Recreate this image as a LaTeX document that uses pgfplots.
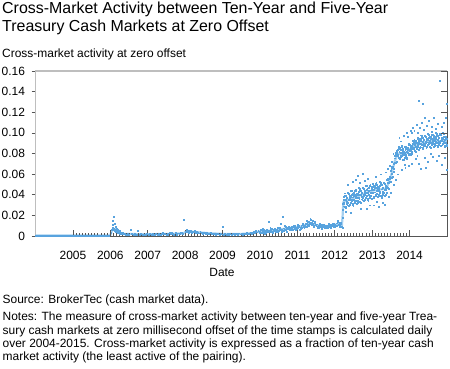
\documentclass[border=0pt]{standalone}
\usepackage{pgfplots}
\usepackage{pgfplotstable}
\pgfplotsset{compat=1.18}
\usepackage{fontspec}
\setmainfont{Liberation Sans}
\definecolor{dotblue}{RGB}{88,163,222}
\definecolor{bandblue}{RGB}{165,208,240}
\definecolor{framegray}{RGB}{190,190,190}
\definecolor{tickgray}{RGB}{85,85,85}

\pgfplotstableread[row sep=\\]{
x y\\
2004.00 0.0006\\ 2004.05 0.0005\\ 2004.10 0.0007\\ 2004.15 0.0004\\ 2004.20 0.0006\\ 2004.25 0.0008\\ 2004.30 0.0005\\ 2004.35 0.0006\\ 2004.40 0.0004\\ 2004.45 0.0007\\
2004.50 0.0005\\ 2004.55 0.0006\\ 2004.60 0.0008\\ 2004.65 0.0005\\ 2004.70 0.0006\\ 2004.75 0.0004\\ 2004.80 0.0007\\ 2004.85 0.0006\\ 2004.90 0.0005\\ 2004.95 0.0006\\
2005.00 0.0005\\ 2005.05 0.0007\\ 2005.10 0.0006\\ 2005.15 0.0004\\ 2005.20 0.0006\\ 2005.25 0.0007\\ 2005.30 0.0005\\ 2005.35 0.0006\\ 2005.40 0.0008\\ 2005.45 0.0005\\
2005.50 0.0006\\ 2005.55 0.0004\\ 2005.60 0.0007\\ 2005.65 0.0006\\ 2005.70 0.0005\\ 2005.75 0.0007\\ 2005.80 0.0006\\ 2005.85 0.0005\\ 2005.90 0.0008\\ 2005.95 0.0006\\
2006.02 0.0030\\ 2006.04 0.0065\\ 2006.05 0.0110\\ 2006.06 0.0085\\ 2006.07 0.0150\\ 2006.08 0.0060\\ 2006.09 0.0185\\ 2006.10 0.0072\\ 2006.11 0.0120\\ 2006.12 0.0050\\
2006.13 0.0095\\ 2006.14 0.0065\\ 2006.15 0.0040\\ 2006.16 0.0075\\ 2006.17 0.0055\\ 2006.18 0.0035\\ 2006.19 0.0062\\ 2006.20 0.0045\\ 2006.22 0.0030\\ 2006.24 0.0052\\
2006.26 0.0025\\ 2006.28 0.0038\\ 2006.30 0.0020\\ 2006.32 0.0030\\ 2006.35 0.0018\\ 2006.38 0.0025\\
2006.42 0.0015\\ 2006.46 0.0022\\ 2006.50 0.0012\\ 2006.54 0.0058\\ 2006.58 0.0018\\ 2006.62 0.0013\\ 2006.66 0.0020\\ 2006.70 0.0016\\ 2006.74 0.0055\\ 2006.78 0.0014\\
2006.82 0.0021\\ 2006.86 0.0012\\ 2006.90 0.0018\\ 2006.94 0.0015\\ 2006.98 0.0022\\ 2007.02 0.0013\\ 2007.06 0.0019\\ 2007.10 0.0016\\ 2007.14 0.0024\\ 2007.18 0.0012\\
2007.22 0.0020\\ 2007.26 0.0017\\ 2007.30 0.0025\\ 2007.34 0.0014\\ 2007.38 0.0022\\ 2007.42 0.0018\\ 2007.46 0.0027\\ 2007.50 0.0015\\ 2007.54 0.0023\\ 2007.58 0.0030\\
2007.62 0.0019\\ 2007.66 0.0026\\ 2007.70 0.0017\\ 2007.74 0.0031\\ 2007.78 0.0022\\ 2007.82 0.0028\\ 2007.86 0.0020\\ 2007.90 0.0035\\ 2007.94 0.0025\\ 2007.97 0.0162\\
2006.44 0.0010\\ 2006.56 0.0025\\ 2006.68 0.0011\\ 2006.80 0.0026\\ 2006.92 0.0010\\ 2007.04 0.0027\\ 2007.16 0.0011\\ 2007.28 0.0013\\ 2007.40 0.0030\\ 2007.52 0.0012\\
2007.64 0.0035\\ 2007.76 0.0014\\ 2007.88 0.0038\\
2008.01 0.0045\\ 2008.03 0.0062\\ 2008.05 0.0038\\ 2008.07 0.0052\\ 2008.09 0.0030\\ 2008.11 0.0048\\ 2008.13 0.0041\\ 2008.15 0.0055\\ 2008.17 0.0033\\ 2008.19 0.0046\\
2008.22 0.0039\\ 2008.25 0.0050\\ 2008.28 0.0031\\ 2008.31 0.0043\\ 2008.34 0.0036\\ 2008.37 0.0028\\ 2008.40 0.0041\\ 2008.43 0.0034\\ 2008.46 0.0025\\ 2008.49 0.0038\\
2008.52 0.0030\\ 2008.55 0.0022\\ 2008.58 0.0035\\ 2008.61 0.0027\\ 2008.64 0.0020\\ 2008.67 0.0032\\ 2008.70 0.0024\\ 2008.73 0.0018\\ 2008.76 0.0028\\ 2008.79 0.0021\\
2008.82 0.0016\\ 2008.85 0.0026\\ 2008.88 0.0019\\ 2008.91 0.0015\\ 2008.94 0.0024\\ 2008.97 0.0018\\ 2008.99 0.0087\\
2009.02 0.0015\\ 2009.05 0.0024\\ 2009.08 0.0018\\ 2009.11 0.0012\\ 2009.14 0.0022\\ 2009.17 0.0016\\ 2009.20 0.0027\\ 2009.23 0.0014\\ 2009.26 0.0020\\ 2009.29 0.0025\\
2009.32 0.0013\\ 2009.35 0.0019\\ 2009.38 0.0023\\ 2009.41 0.0016\\ 2009.44 0.0028\\ 2009.47 0.0018\\ 2009.50 0.0021\\ 2009.53 0.0015\\ 2009.56 0.0026\\ 2009.59 0.0019\\
2009.62 0.0023\\ 2009.65 0.0030\\ 2009.68 0.0020\\ 2009.71 0.0027\\ 2009.74 0.0033\\ 2009.77 0.0024\\ 2009.80 0.0036\\
2009.83 0.0042\\ 2009.86 0.0030\\ 2009.89 0.0055\\ 2009.92 0.0038\\ 2009.95 0.0048\\ 2009.98 0.0035\\
2010.00 0.0045\\ 2010.02 0.0062\\ 2010.04 0.0038\\ 2010.06 0.0053\\ 2010.08 0.0030\\ 2010.10 0.0058\\ 2010.12 0.0041\\ 2010.14 0.0049\\ 2010.16 0.0035\\ 2010.18 0.0066\\
2010.20 0.0044\\ 2010.22 0.0136\\ 2010.24 0.0052\\ 2010.26 0.0039\\ 2010.28 0.0061\\ 2010.30 0.0047\\ 2010.32 0.0070\\ 2010.34 0.0043\\ 2010.36 0.0058\\ 2010.38 0.0050\\
2010.40 0.0074\\ 2010.42 0.0046\\ 2010.44 0.0063\\ 2010.46 0.0055\\ 2010.48 0.0080\\ 2010.50 0.0049\\ 2010.52 0.0068\\ 2010.54 0.0058\\ 2010.56 0.0120\\ 2010.58 0.0062\\
2010.60 0.0187\\ 2010.62 0.0053\\ 2010.64 0.0077\\ 2010.66 0.0065\\ 2010.68 0.0088\\ 2010.70 0.0058\\ 2010.72 0.0081\\ 2010.74 0.0069\\ 2010.76 0.0092\\ 2010.78 0.0064\\
2010.01 0.0028\\ 2010.07 0.0070\\ 2010.13 0.0025\\ 2010.19 0.0052\\ 2010.27 0.0080\\ 2010.33 0.0032\\ 2010.41 0.0056\\ 2010.47 0.0038\\ 2010.53 0.0085\\ 2010.59 0.0042\\
2010.65 0.0098\\ 2010.71 0.0045\\ 2010.77 0.0075\\
2010.80 0.0085\\ 2010.82 0.0070\\ 2010.84 0.0095\\ 2010.86 0.0078\\ 2010.88 0.0062\\ 2010.90 0.0090\\ 2010.92 0.0075\\ 2010.94 0.0102\\ 2010.96 0.0081\\ 2010.98 0.0068\\
2011.00 0.0093\\ 2011.02 0.0079\\ 2011.04 0.0105\\ 2011.06 0.0086\\ 2011.08 0.0072\\ 2011.10 0.0098\\ 2011.12 0.0084\\ 2011.14 0.0110\\ 2011.16 0.0091\\ 2011.18 0.0078\\
2011.20 0.0105\\ 2011.22 0.0120\\ 2011.24 0.0095\\ 2011.26 0.0128\\ 2011.28 0.0108\\ 2011.30 0.0142\\ 2011.32 0.0118\\ 2011.34 0.0170\\ 2011.36 0.0132\\ 2011.38 0.0112\\
2011.40 0.0145\\ 2011.42 0.0120\\ 2011.44 0.0100\\ 2011.46 0.0128\\ 2011.48 0.0108\\
2010.83 0.0058\\ 2010.89 0.0105\\ 2010.95 0.0064\\ 2011.01 0.0112\\ 2011.07 0.0066\\ 2011.13 0.0118\\ 2011.19 0.0088\\ 2011.25 0.0150\\ 2011.31 0.0100\\ 2011.35 0.0155\\
2011.39 0.0128\\ 2011.43 0.0092\\ 2011.47 0.0138\\
2011.50 0.0098\\ 2011.52 0.0115\\ 2011.54 0.0090\\ 2011.56 0.0105\\ 2011.58 0.0085\\ 2011.60 0.0100\\ 2011.62 0.0088\\ 2011.64 0.0108\\ 2011.66 0.0082\\ 2011.68 0.0095\\
2011.70 0.0087\\ 2011.72 0.0102\\ 2011.74 0.0080\\ 2011.76 0.0097\\ 2011.78 0.0090\\ 2011.80 0.0106\\ 2011.82 0.0085\\ 2011.84 0.0100\\ 2011.86 0.0093\\ 2011.88 0.0110\\
2011.90 0.0088\\ 2011.92 0.0105\\ 2011.94 0.0098\\ 2011.96 0.0118\\ 2011.98 0.0094\\ 2012.00 0.0112\\ 2012.02 0.0100\\ 2012.04 0.0125\\ 2012.06 0.0105\\ 2012.08 0.0140\\
2012.10 0.0110\\ 2012.12 0.0128\\ 2012.14 0.0102\\ 2012.16 0.0120\\ 2012.18 0.0095\\
2011.53 0.0078\\ 2011.59 0.0118\\ 2011.65 0.0076\\ 2011.71 0.0112\\ 2011.77 0.0079\\ 2011.83 0.0116\\ 2011.89 0.0082\\ 2011.95 0.0122\\ 2012.01 0.0088\\ 2012.07 0.0150\\
2012.13 0.0092\\ 2012.17 0.0135\\
2012.20 0.0080\\ 2012.21 0.0180\\ 2012.215 0.0260\\ 2012.22 0.0310\\ 2012.225 0.0350\\ 2012.23 0.0290\\
2012.24 0.0381\\ 2012.25 0.0318\\ 2012.26 0.0416\\ 2012.27 0.0289\\ 2012.28 0.0354\\ 2012.29 0.0275\\ 2012.30 0.0396\\ 2012.31 0.0333\\ 2012.32 0.0375\\ 2012.33 0.0304\\
2012.34 0.0417\\ 2012.35 0.0322\\ 2012.36 0.0355\\ 2012.37 0.0412\\ 2012.38 0.0294\\ 2012.39 0.0375\\ 2012.40 0.0352\\ 2012.41 0.0393\\ 2012.42 0.0322\\ 2012.43 0.0443\\
2012.44 0.0405\\ 2012.45 0.0342\\ 2012.46 0.0439\\ 2012.47 0.0312\\ 2012.48 0.0377\\ 2012.49 0.0298\\ 2012.50 0.0420\\ 2012.51 0.0357\\ 2012.52 0.0398\\ 2012.53 0.0327\\
2012.54 0.0440\\ 2012.55 0.0345\\ 2012.56 0.0379\\ 2012.57 0.0436\\ 2012.58 0.0317\\ 2012.59 0.0398\\ 2012.60 0.0375\\ 2012.61 0.0416\\ 2012.62 0.0346\\ 2012.63 0.0467\\
2012.64 0.0428\\ 2012.65 0.0365\\ 2012.66 0.0462\\ 2012.67 0.0335\\ 2012.68 0.0401\\ 2012.69 0.0322\\ 2012.70 0.0443\\ 2012.71 0.0380\\ 2012.72 0.0421\\ 2012.73 0.0350\\
2012.74 0.0464\\ 2012.75 0.0369\\ 2012.76 0.0402\\ 2012.77 0.0459\\ 2012.78 0.0340\\ 2012.79 0.0421\\ 2012.80 0.0399\\ 2012.81 0.0440\\ 2012.82 0.0369\\ 2012.83 0.0490\\
2012.84 0.0451\\ 2012.85 0.0388\\ 2012.86 0.0486\\ 2012.87 0.0359\\ 2012.88 0.0424\\ 2012.89 0.0345\\ 2012.90 0.0466\\ 2012.91 0.0403\\ 2012.92 0.0445\\ 2012.93 0.0374\\
2012.94 0.0487\\ 2012.95 0.0392\\ 2012.96 0.0425\\ 2012.97 0.0482\\ 2012.98 0.0364\\ 2012.99 0.0445\\
2012.245 0.0325\\ 2012.265 0.0392\\ 2012.285 0.0282\\ 2012.305 0.0373\\ 2012.325 0.0311\\ 2012.345 0.0425\\ 2012.365 0.0348\\ 2012.385 0.0390\\ 2012.405 0.0304\\ 2012.425 0.0379\\
2012.445 0.0349\\ 2012.465 0.0415\\ 2012.485 0.0306\\ 2012.505 0.0396\\ 2012.525 0.0334\\ 2012.545 0.0449\\ 2012.565 0.0371\\ 2012.585 0.0413\\ 2012.605 0.0328\\ 2012.625 0.0402\\
2012.645 0.0372\\ 2012.665 0.0439\\ 2012.685 0.0329\\ 2012.705 0.0419\\ 2012.725 0.0358\\ 2012.745 0.0472\\ 2012.765 0.0394\\ 2012.785 0.0437\\ 2012.805 0.0351\\ 2012.825 0.0425\\
2012.845 0.0396\\ 2012.865 0.0462\\ 2012.885 0.0352\\ 2012.905 0.0443\\ 2012.925 0.0381\\ 2012.945 0.0495\\ 2012.965 0.0418\\ 2012.985 0.0460\\
2012.28 0.0240\\ 2012.42 0.0225\\ 2012.55 0.0550\\ 2012.62 0.0585\\ 2012.66 0.0520\\ 2012.74 0.0605\\ 2012.80 0.0540\\ 2012.88 0.0560\\ 2012.35 0.0500\\ 2012.47 0.0530\\
2012.70 0.0270\\ 2012.93 0.0300\\ 2012.84 0.0265\\
2013.00 0.0480\\ 2013.01 0.0416\\ 2013.02 0.0512\\ 2013.03 0.0384\\ 2013.04 0.0448\\ 2013.05 0.0368\\ 2013.06 0.0490\\ 2013.07 0.0426\\ 2013.08 0.0466\\ 2013.09 0.0394\\
2013.10 0.0508\\ 2013.11 0.0412\\ 2013.12 0.0444\\ 2013.13 0.0500\\ 2013.14 0.0380\\ 2013.15 0.0461\\ 2013.16 0.0437\\ 2013.17 0.0477\\ 2013.18 0.0405\\ 2013.19 0.0525\\
2013.20 0.0487\\ 2013.21 0.0423\\ 2013.22 0.0519\\ 2013.23 0.0391\\ 2013.24 0.0455\\ 2013.25 0.0376\\ 2013.26 0.0496\\ 2013.27 0.0432\\ 2013.28 0.0473\\ 2013.29 0.0401\\
2013.30 0.0514\\ 2013.31 0.0418\\ 2013.32 0.0452\\ 2013.33 0.0510\\ 2013.34 0.0390\\ 2013.35 0.0470\\ 2013.36 0.0448\\ 2013.37 0.0492\\ 2013.38 0.0425\\ 2013.39 0.0550\\
2013.005 0.0424\\ 2013.025 0.0488\\ 2013.045 0.0376\\ 2013.065 0.0466\\ 2013.085 0.0403\\ 2013.105 0.0516\\ 2013.125 0.0436\\ 2013.145 0.0477\\ 2013.165 0.0390\\ 2013.185 0.0462\\
2013.205 0.0431\\ 2013.225 0.0495\\ 2013.245 0.0383\\ 2013.265 0.0472\\ 2013.285 0.0409\\ 2013.305 0.0522\\ 2013.325 0.0445\\ 2013.345 0.0486\\ 2013.365 0.0402\\ 2013.385 0.0484\\
2013.03 0.0300\\ 2013.12 0.0330\\ 2013.18 0.0285\\ 2013.27 0.0320\\ 2013.33 0.0305\\ 2013.08 0.0580\\ 2013.22 0.0600\\ 2013.36 0.0620\\
2013.40 0.0515\\ 2013.41 0.0467\\ 2013.42 0.0559\\ 2013.43 0.0455\\ 2013.44 0.0519\\ 2013.45 0.0457\\ 2013.46 0.0574\\ 2013.47 0.0530\\ 2013.48 0.0577\\ 2013.49 0.0526\\
2013.50 0.0636\\ 2013.51 0.0566\\ 2013.52 0.0608\\ 2013.53 0.0671\\ 2013.54 0.0580\\ 2013.55 0.0664\\ 2013.56 0.0657\\ 2013.57 0.0706\\ 2013.58 0.0657\\ 2013.59 0.0776\\
2013.60 0.0755\\ 2013.61 0.0711\\ 2013.62 0.0807\\ 2013.63 0.0707\\ 2013.64 0.0775\\ 2013.65 0.0717\\ 2013.66 0.0829\\ 2013.67 0.0779\\
2013.405 0.0470\\ 2013.425 0.0542\\ 2013.445 0.0460\\ 2013.465 0.0559\\ 2013.485 0.0527\\ 2013.505 0.0650\\ 2013.525 0.0608\\ 2013.545 0.0671\\ 2013.565 0.0622\\ 2013.585 0.0713\\
2013.605 0.0712\\ 2013.625 0.0792\\ 2013.645 0.0718\\ 2013.665 0.0811\\
2013.42 0.0650\\ 2013.47 0.0680\\ 2013.52 0.0720\\ 2013.58 0.0500\\ 2013.63 0.0550\\ 2013.68 0.0600\\ 2013.44 0.0380\\ 2013.50 0.0420\\ 2013.56 0.0800\\
2013.68 0.0835\\ 2013.69 0.0782\\ 2013.70 0.0869\\ 2013.71 0.0760\\ 2013.72 0.0818\\ 2013.73 0.0751\\ 2013.74 0.0859\\ 2013.75 0.0806\\ 2013.76 0.0838\\ 2013.77 0.0772\\
2013.78 0.0867\\ 2013.79 0.0780\\ 2013.80 0.0805\\ 2013.81 0.0851\\ 2013.82 0.0743\\ 2013.83 0.0810\\ 2013.84 0.0786\\ 2013.85 0.0818\\ 2013.86 0.0758\\ 2013.87 0.0866\\
2013.88 0.0834\\ 2013.89 0.0781\\ 2013.90 0.0868\\ 2013.91 0.0759\\ 2013.92 0.0818\\ 2013.93 0.0751\\ 2013.94 0.0859\\ 2013.95 0.0806\\ 2013.96 0.0844\\ 2013.97 0.0784\\
2013.98 0.0885\\ 2013.99 0.0804\\ 2014.00 0.0835\\ 2014.01 0.0887\\ 2014.02 0.0785\\ 2014.03 0.0858\\ 2014.04 0.0840\\ 2014.05 0.0878\\ 2014.06 0.0819\\ 2014.07 0.0928\\
2014.08 0.0897\\ 2014.09 0.0845\\
2013.685 0.0787\\ 2013.705 0.0849\\ 2013.725 0.0757\\ 2013.745 0.0840\\ 2013.765 0.0781\\ 2013.785 0.0873\\ 2013.805 0.0797\\ 2013.825 0.0826\\ 2013.845 0.0743\\ 2013.865 0.0809\\
2013.885 0.0787\\ 2013.905 0.0849\\ 2013.925 0.0757\\ 2013.945 0.0840\\ 2013.965 0.0790\\ 2013.985 0.0894\\ 2014.005 0.0830\\ 2014.025 0.0871\\ 2014.045 0.0800\\ 2014.065 0.0870\\
2014.085 0.0850\\
2013.72 0.0950\\ 2013.78 0.0640\\ 2013.83 0.0970\\ 2013.88 0.0660\\ 2013.92 0.1000\\ 2013.97 0.0680\\ 2014.02 0.1020\\ 2014.06 0.0700\\ 2013.75 0.0920\\ 2013.95 0.0960\\
2013.86 0.0690\\ 2014.09 0.1050\\
2014.10 0.0905\\ 2014.11 0.0851\\ 2014.12 0.0937\\ 2014.13 0.0827\\ 2014.14 0.0885\\ 2014.15 0.0817\\ 2014.16 0.0924\\ 2014.17 0.0870\\ 2014.18 0.0907\\ 2014.19 0.0846\\
2014.20 0.0946\\ 2014.21 0.0864\\ 2014.22 0.0894\\ 2014.23 0.0945\\ 2014.24 0.0842\\ 2014.25 0.0914\\ 2014.26 0.0895\\ 2014.27 0.0932\\ 2014.28 0.0871\\ 2014.29 0.0978\\
2014.30 0.0945\\ 2014.31 0.0889\\ 2014.32 0.0974\\ 2014.33 0.0862\\ 2014.34 0.0919\\ 2014.35 0.0849\\ 2014.36 0.0955\\ 2014.37 0.0899\\ 2014.38 0.0935\\ 2014.39 0.0872\\
2014.40 0.0971\\ 2014.41 0.0887\\ 2014.42 0.0916\\ 2014.43 0.0965\\ 2014.44 0.0861\\ 2014.45 0.0931\\ 2014.46 0.0911\\ 2014.47 0.0946\\ 2014.48 0.0884\\ 2014.49 0.0989\\
2014.50 0.0955\\ 2014.51 0.0899\\ 2014.52 0.0984\\ 2014.53 0.0872\\ 2014.54 0.0929\\ 2014.55 0.0859\\ 2014.56 0.0965\\ 2014.57 0.0909\\ 2014.58 0.0945\\ 2014.59 0.0882\\
2014.60 0.0981\\ 2014.61 0.0897\\ 2014.62 0.0926\\ 2014.63 0.0975\\ 2014.64 0.0871\\ 2014.65 0.0941\\ 2014.66 0.0921\\ 2014.67 0.0956\\ 2014.68 0.0894\\ 2014.69 0.0999\\
2014.70 0.0965\\ 2014.71 0.0909\\ 2014.72 0.0993\\ 2014.73 0.0881\\ 2014.74 0.0937\\ 2014.75 0.0867\\ 2014.76 0.0972\\ 2014.77 0.0916\\ 2014.78 0.0951\\ 2014.79 0.0888\\
2014.80 0.0986\\ 2014.81 0.0902\\ 2014.82 0.0930\\ 2014.83 0.0979\\ 2014.84 0.0874\\ 2014.85 0.0944\\ 2014.86 0.0923\\ 2014.87 0.0958\\ 2014.88 0.0895\\ 2014.89 0.1000\\
2014.90 0.0965\\ 2014.91 0.0908\\ 2014.92 0.0991\\ 2014.93 0.0878\\ 2014.94 0.0933\\ 2014.95 0.0862\\ 2014.96 0.0966\\ 2014.97 0.0909\\ 2014.98 0.0943\\ 2014.99 0.0879\\
2014.105 0.0857\\ 2014.125 0.0917\\ 2014.145 0.0823\\ 2014.165 0.0904\\ 2014.185 0.0852\\ 2014.205 0.0954\\ 2014.225 0.0888\\ 2014.245 0.0927\\ 2014.265 0.0854\\ 2014.285 0.0921\\
2014.305 0.0896\\ 2014.325 0.0953\\ 2014.345 0.0856\\ 2014.365 0.0934\\ 2014.385 0.0879\\ 2014.405 0.0978\\ 2014.425 0.0909\\ 2014.445 0.0945\\ 2014.465 0.0869\\ 2014.485 0.0933\\
2014.505 0.0906\\ 2014.525 0.0963\\ 2014.545 0.0866\\ 2014.565 0.0944\\ 2014.585 0.0889\\ 2014.605 0.0988\\ 2014.625 0.0919\\ 2014.645 0.0955\\ 2014.665 0.0879\\ 2014.685 0.0943\\
2014.705 0.0916\\ 2014.725 0.0972\\ 2014.745 0.0874\\ 2014.765 0.0951\\ 2014.785 0.0895\\ 2014.805 0.0993\\ 2014.825 0.0923\\ 2014.845 0.0958\\ 2014.865 0.0881\\ 2014.885 0.0944\\
2014.905 0.0915\\ 2014.925 0.0969\\ 2014.945 0.0869\\ 2014.965 0.0944\\ 2014.985 0.0886\\
2014.12 0.1020\\ 2014.18 0.1080\\ 2014.22 0.1000\\ 2014.27 0.1050\\ 2014.33 0.1100\\ 2014.38 0.1030\\ 2014.45 0.1070\\ 2014.52 0.1120\\ 2014.23 0.1310\\ 2014.35 0.1280\\
2014.80 0.1510\\ 2014.99 0.1280\\ 2014.60 0.1060\\ 2014.65 0.1150\\ 2014.70 0.1040\\ 2014.75 0.1090\\ 2014.85 0.1060\\ 2014.92 0.1100\\ 2014.97 0.1150\\ 2014.05 0.1000\\
2014.41 0.1150\\ 2014.58 0.1010\\
2014.15 0.0750\\ 2014.25 0.0700\\ 2014.30 0.0650\\ 2014.40 0.0760\\ 2014.48 0.0720\\ 2014.56 0.0800\\ 2014.62 0.0770\\ 2014.71 0.0730\\ 2014.78 0.0780\\ 2014.86 0.0690\\
2014.94 0.0760\\ 2014.98 0.0640\\ 2014.20 0.0780\\ 2014.43 0.0660\\
}\scatterdata

\pgfplotstableread[row sep=\\]{
x y\\
2004.00 0.0005\\ 2006.00 0.0005\\ 2006.05 0.0060\\ 2006.12 0.0070\\ 2006.20 0.0040\\ 2006.35 0.0020\\
2007.00 0.0017\\ 2007.50 0.0020\\ 2007.95 0.0025\\ 2008.03 0.0045\\ 2008.30 0.0038\\ 2008.60 0.0028\\
2009.00 0.0020\\ 2009.50 0.0020\\ 2009.80 0.0028\\ 2010.00 0.0045\\ 2010.40 0.0055\\ 2010.80 0.0078\\
2011.10 0.0092\\ 2011.34 0.0125\\ 2011.50 0.0105\\ 2011.80 0.0095\\ 2012.10 0.0115\\ 2012.19 0.0100\\
2012.21 0.0200\\ 2012.23 0.0330\\ 2012.50 0.0370\\ 2013.00 0.0440\\ 2013.38 0.0460\\ 2013.50 0.0580\\
2013.60 0.0720\\ 2013.68 0.0800\\ 2013.85 0.0790\\ 2014.10 0.0870\\ 2014.50 0.0920\\ 2015.00 0.0920\\
}\banddata

\pgfplotsset{
  basegeom/.style={
    scale only axis, width=411.5bp, height=165bp,
    xmin=2004, xmax=2015, ymin=0, ymax=0.16,
    at={(35.5bp,133bp)}, anchor=south west,
    axis line style={draw=none},
    tick style={color=tickgray, line width=0.6bp},
    ticklabel style={font=\fontsize{12}{14}\selectfont, text=black},
  }
}

\begin{document}
\begin{tikzpicture}
\path[use as bounding box] (0,0) rectangle (450bp,369bp);

% y tick labels and outward left ticks
\begin{axis}[basegeom,
  xtick=\empty,
  ytick={0,0.02,0.04,0.06,0.08,0.10,0.12,0.14,0.16},
  yticklabels={0,0.02,0.04,0.06,0.08,0.10,0.12,0.14,0.16},
  ytick pos=left, tick align=outside, major tick length=4bp,
  yticklabel style={xshift=-3bp},
]
\end{axis}

% main axis with data
\begin{axis}[basegeom,
  ytick=\empty,
  xtick={2005,2006,2007,2008,2009,2010,2011,2012,2013,2014},
  xticklabels={2005,2006,2007,2008,2009,2010,2011,2012,2013,2014},
  minor x tick num=11,
  xtick pos=bottom, tick align=inside,
  major tick length=6bp, minor tick length=2.5bp,
  minor tick style={color=tickgray, line width=0.8bp},
  xticklabel style={yshift=-12bp},
  axis on top,
  clip=false,
]
\addplot[bandblue, line width=2.2bp, line join=round] table[x=x,y=y] {\banddata};
\addplot[dotblue, only marks, mark=square*, mark size=0.45bp, mark options={draw=dotblue, fill=dotblue, line width=0.2bp}] table[x=x,y=y] {\scatterdata};
\draw[framegray, line width=1.6bp] (rel axis cs:0,0) -- (rel axis cs:0,1) -- (rel axis cs:1,1);
\draw[tickgray, line width=0.8bp] (rel axis cs:0,0) -- (rel axis cs:1,0) -- (rel axis cs:1,1);
\end{axis}

% right inward ticks (drawn over the data)
\begin{axis}[basegeom,
  xtick=\empty,
  ytick={0,0.02,0.04,0.06,0.08,0.10,0.12,0.14,0.16},
  yticklabels={},
  ytick pos=right, tick align=inside, major tick length=6bp,
]
\end{axis}

% texts
\node[anchor=base west, inner sep=0pt, font=\fontsize{16}{18}\selectfont] at (2bp,355bp) {Cross-Market Activity between Ten-Year and Five-Year};
\node[anchor=base west, inner sep=0pt, font=\fontsize{16}{18}\selectfont] at (2bp,337.3bp) {Treasury Cash Markets at Zero Offset};
\node[anchor=base west, inner sep=0pt, font=\fontsize{12}{14}\selectfont] at (2bp,311.7bp) {Cross-market activity at zero offset};
\node[anchor=base, inner sep=0pt, font=\fontsize{12}{14}\selectfont] at (222bp,92bp) {Date};
\node[anchor=base west, inner sep=0pt, font=\fontsize{12}{14}\selectfont] at (2.5bp,65bp) {Source: BrokerTec (cash market data).};
\node[anchor=base west, inner sep=0pt, font=\fontsize{12}{14}\selectfont] at (2.5bp,48.3bp) {Notes: The measure of cross-market activity between ten-year and five-year Trea-};
\node[anchor=base west, inner sep=0pt, font=\fontsize{12}{14}\selectfont] at (2.5bp,35bp) {sury cash markets at zero millisecond offset of the time stamps is calculated daily};
\node[anchor=base west, inner sep=0pt, font=\fontsize{12}{14}\selectfont] at (2.5bp,21.7bp) {over 2004-2015. Cross-market activity is expressed as a fraction of ten-year cash};
\node[anchor=base west, inner sep=0pt, font=\fontsize{12}{14}\selectfont] at (2.5bp,8.3bp) {market activity (the least active of the pairing).};
\end{tikzpicture}
\end{document}
